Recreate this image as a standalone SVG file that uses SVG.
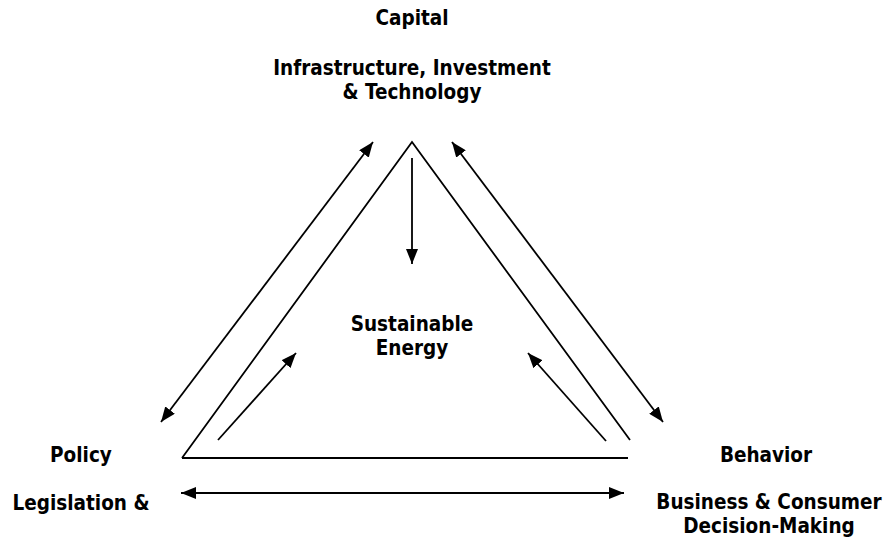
<svg xmlns="http://www.w3.org/2000/svg" width="885" height="544" viewBox="0 0 885 544">
  <defs>
    <marker id="head" viewBox="0 0 15 12" markerWidth="15" markerHeight="12" refX="15" refY="6" orient="auto-start-reverse" markerUnits="userSpaceOnUse">
      <path d="M0,0 L15,6 L0,12 z" fill="#000"/>
    </marker>
    <style>
      .lbl { font-family: "DejaVu Sans Condensed", "DejaVu Sans", Verdana, sans-serif; font-stretch: condensed; font-weight: bold; font-size: 20.5px; fill: #000; text-anchor: middle; }
      .edge { stroke: #000; stroke-width: 1.8; fill: none; }
      .arrow { marker-end: url(#head); }
      .both { marker-start: url(#head); marker-end: url(#head); }
    </style>
  </defs>
  <rect width="885" height="544" fill="#fff"/>

  <!-- nodes -->
  <g id="capital">
    <text class="lbl" x="412" y="25">Capital</text>
    <text class="lbl" x="412" y="75">Infrastructure, Investment</text>
    <text class="lbl" x="412" y="99">&amp; Technology</text>
  </g>
  <g id="policy">
    <text class="lbl" x="81" y="462">Policy</text>
    <text class="lbl" x="81" y="510">Legislation &amp;</text>
  </g>
  <g id="behavior">
    <text class="lbl" x="766" y="462">Behavior</text>
    <text class="lbl" x="769" y="509">Business &amp; Consumer</text>
    <text class="lbl" x="769" y="533">Decision-Making</text>
  </g>
  <g id="sustainable-energy">
    <text class="lbl" x="412" y="331">Sustainable</text>
    <text class="lbl" x="412" y="355">Energy</text>
  </g>

  <!-- connectors -->
  <g id="connectors">
    <!-- triangle outline -->
    <path class="edge" d="M630,440 L412,142 L182,458"/>
    <line class="edge" x1="182" y1="458" x2="628" y2="458" stroke-width="2.4"/>
    <!-- capital feeds sustainable energy -->
    <line class="edge arrow" x1="412" y1="158" x2="412" y2="264"/>
    <!-- policy and behavior feed sustainable energy -->
    <line class="edge arrow" x1="218" y1="440" x2="296" y2="353"/>
    <line class="edge arrow" x1="606" y1="441" x2="528" y2="353"/>
    <!-- mutual links between corners -->
    <line class="edge both" x1="161" y1="422" x2="373" y2="142"/>
    <line class="edge both" x1="452" y1="142" x2="663" y2="422"/>
    <line class="edge both" x1="181" y1="493" x2="624" y2="493"/>
  </g>
</svg>
